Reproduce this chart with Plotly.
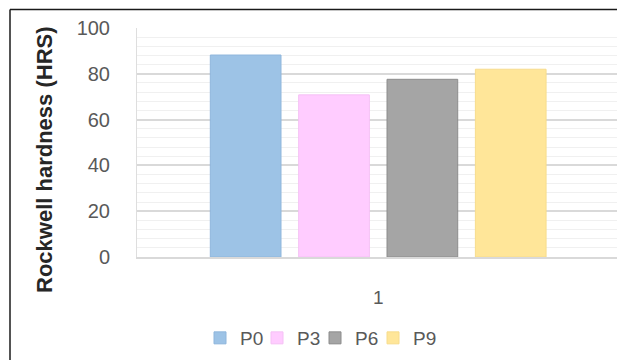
import plotly.graph_objects as go

# Rockwell hardness per sample
categories = ["1"]
series_names = ["P0", "P3", "P6", "P9"]
hardness = [88.2, 70.8, 77.6, 82.0]
colors = ["#9DC3E6", "#FFCCFF", "#A5A5A5", "#FFE699"]
edge_colors = ["#8FB6DC", "#F5C0F5", "#8C8C8C", "#F7DC8C"]
y_ticks = [0, 20, 40, 60, 80, 100]

W, H = 617, 360
ML, MR, MT, MB = 137, 0, 28, 103

plot_w = W - ML - MR
plot_h = H - MT - MB


def px_to_paper_x(px):
    return (px - ML) / plot_w


def px_to_paper_y(py):
    return (H - MB - py) / plot_h


# one legend box per series so the entries sit close together
legend_text_x = [240, 297, 355, 413]
legend_ids = ["legend", "legend2", "legend3", "legend4"]

fig = go.Figure()
for name, val, col, edge, lid in zip(series_names, hardness, colors,
                                     edge_colors, legend_ids):
    fig.add_trace(go.Bar(
        x=categories, y=[val], name=name, legend=lid,
        marker=dict(color=col, line=dict(color=edge, width=1)),
    ))

legend_style = dict(font=dict(size=19, color="#595959"),
                    itemwidth=30, bgcolor="rgba(0,0,0,0)",
                    orientation="h", xanchor="left", yanchor="middle",
                    y=px_to_paper_y(338))
legend_layout = {}
for lid, tx in zip(legend_ids, legend_text_x):
    legend_layout[lid] = dict(legend_style, x=px_to_paper_x(tx - 40))

# frame lines along the top and left of the figure
fig.add_shape(type="line", xref="paper", yref="paper",
              x0=px_to_paper_x(10), x1=px_to_paper_x(W + 5),
              y0=px_to_paper_y(9.5), y1=px_to_paper_y(9.5),
              line=dict(color="#1a1a1a", width=1.5))
fig.add_shape(type="line", xref="paper", yref="paper",
              x0=px_to_paper_x(10), x1=px_to_paper_x(10),
              y0=px_to_paper_y(9.5), y1=px_to_paper_y(H + 5),
              line=dict(color="#1a1a1a", width=1.5))

# vertical axis title
fig.add_annotation(
    text="<b>Rockwell hardness (HRS)</b>", textangle=-90,
    xref="paper", yref="paper",
    x=px_to_paper_x(44), y=px_to_paper_y(160),
    xanchor="center", yanchor="middle", showarrow=False,
    font=dict(size=22, color="#262626",
              family="Liberation Sans, Arial, sans-serif"),
)

fig.update_layout(
    width=W, height=H,
    margin=dict(l=ML, r=MR, t=MT, b=MB),
    paper_bgcolor="white", plot_bgcolor="white",
    barmode="group", bargap=0.26, bargroupgap=0.2,
    font=dict(family="Liberation Sans, Arial, sans-serif", color="#595959"),
    showlegend=True,
    xaxis=dict(
        range=[-0.505, 0.5],
        showgrid=False, showline=True, linecolor="#d9d9d9", linewidth=1.5,
        tickfont=dict(size=19, color="#595959"), ticks="",
        ticklabelstandoff=22,
    ),
    yaxis=dict(
        range=[0, 100], tickvals=y_ticks,
        showgrid=True, gridcolor="#d9d9d9", gridwidth=1.5,
        zeroline=False, showline=True, linecolor="#dedede", linewidth=1,
        ticks="", ticklabelstandoff=22,
        tickfont=dict(size=20, color="#595959"),
        minor=dict(dtick=4, showgrid=True, gridcolor="#f0f0f0", gridwidth=1),
    ),
    **legend_layout,
)

fig.write_html("out.html")
